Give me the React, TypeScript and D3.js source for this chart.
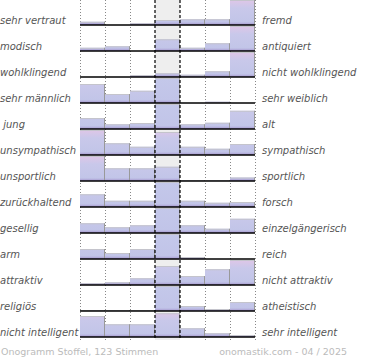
import React from "react";
import * as d3 from "d3";

const leftLabels = [
  "sehr vertraut", "modisch", "wohlklingend", "sehr männlich", " jung", "unsympathisch",
  "unsportlich", "zurückhaltend", "gesellig", "arm", "attraktiv", "religiös", "nicht intelligent",
];
const rightLabels = [
  "fremd", "antiquiert", "nicht wohlklingend", "sehr weiblich", "alt", "sympathisch",
  "sportlich", "forsch", "einzelgängerisch", "reich", "nicht attraktiv", "atheistisch", "sehr intelligent",
];
// share per scale step (7 steps), 100 = full row height; >100 is cut off
const rowValues: number[][] = [
  [13, 0, 7, 20, 23, 23, 100],
  [13, 19, 0, 47, 13, 31, 100],
  [0, 0, 8, 15, 9, 23, 100],
  [76, 36, 49, 130, 0, 5, 0],
  [44, 19, 24, 120, 19, 25, 73],
  [100, 47, 33, 92, 33, 25, 44],
  [100, 51, 51, 57, 4, 4, 14],
  [51, 25, 25, 140, 25, 17, 20],
  [39, 23, 31, 130, 31, 17, 57],
  [40, 24, 40, 150, 8, 0, 0],
  [7, 11, 27, 76, 36, 63, 100],
  [4, 4, 4, 160, 20, 8, 36],
  [84, 51, 51, 95, 35, 15, 8],
];
const steps = [0, 1, 2, 3, 4, 5, 6];
const footerLeft = "Onogramm Stoffel, 123 Stimmen";
const footerRight = "onomastik.com - 04 / 2025";

const W = 370, H = 360;
const font = "'DejaVu Sans', Verdana, sans-serif";

export default function App() {
  const x = d3.scaleBand<number>().domain(steps).range([80, 255]).padding(0);
  const base = d3.scaleLinear().domain([0, rowValues.length - 1]).range([25, 337]);
  const h = d3.scaleLinear().domain([0, 100]).range([0, 25]);
  const gridBottom = 340;

  return (
    <svg width={W} height={H} style={{ position: "absolute", left: 0, top: 0 }} fontFamily={font}>
      <defs>
        {rowValues.map((_, i) => (
          <React.Fragment key={i}>
            <linearGradient id={`g${i}`} gradientUnits="userSpaceOnUse" x1="0" x2="0" y1={base(i) - h(100)} y2={base(i)}>
              <stop offset="0" stopColor="#dfc6e7" />
              <stop offset="0.32" stopColor="#c9c8ea" />
              <stop offset="0.88" stopColor="#c2c5e8" />
              <stop offset="1" stopColor="#a393cc" />
            </linearGradient>
            <linearGradient id={`b${i}`} gradientUnits="userSpaceOnUse" x1="0" x2="0" y1={base(i) - h(100)} y2={base(i)}>
              <stop offset="0" stopColor="#c4c8ea" />
              <stop offset="0.88" stopColor="#c1c4e8" />
              <stop offset="1" stopColor="#a393cc" />
            </linearGradient>
          </React.Fragment>
        ))}
      </defs>
      <rect x={x(3)} y={0} width={x.bandwidth()} height={gridBottom} fill="#eeeeee" />
      {[0, 1, 2, 5, 6].map((s) => (
        <line key={s} x1={x(s)! + 0.5} x2={x(s)! + 0.5} y1={0} y2={gridBottom} stroke="#888" strokeDasharray="1,2" />
      ))}
      <line x1={255.5} x2={255.5} y1={0} y2={gridBottom} stroke="#888" strokeDasharray="1,2" />
      {rowValues.map((row, i) => (
        <g key={i}>
          {row.map((v, s) => {
            if (v <= 0) return null;
            const vv = Math.min(v, 100);
            const x0 = x(s)!;
            const x1 = x0 + x.bandwidth();
            const top = base(i) - h(vv);
            return (
              <g key={s}>
                <rect x={x0} y={top} width={x.bandwidth()} height={h(vv)} fill={`url(#${v > 100 ? "b" : "g"}${i})`} />
                <path d={`M${x0},${top + 0.5}H${x1 - 0.5}`} stroke="#c4c4cc" fill="none" />
                <path d={`M${x1 - 0.5},${top}V${base(i)}`} stroke="#999" fill="none" />
              </g>
            );
          })}
          <line x1={80} x2={255} y1={base(i)} y2={base(i)} stroke="#000" strokeWidth={1.5} />
          <text x={0} y={base(i) - 1} fontSize={10} fontStyle="italic" fill="#555" style={{ whiteSpace: "pre" }}>
            {leftLabels[i]}
          </text>
          <text x={262} y={base(i) - 1} fontSize={10} fontStyle="italic" fill="#555">
            {rightLabels[i]}
          </text>
        </g>
      ))}
      {[3, 4].map((s) => (
        <line key={s} x1={x(s)!} x2={x(s)!} y1={0} y2={gridBottom} stroke="#000" strokeWidth={1.2} strokeDasharray="3,2" />
      ))}
      <text x={1} y={355} fontSize={9.5} fill="#bbb">{footerLeft}</text>
      <text x={347} y={355} fontSize={9.5} fill="#bbb" textAnchor="end">{footerRight}</text>
    </svg>
  );
}
